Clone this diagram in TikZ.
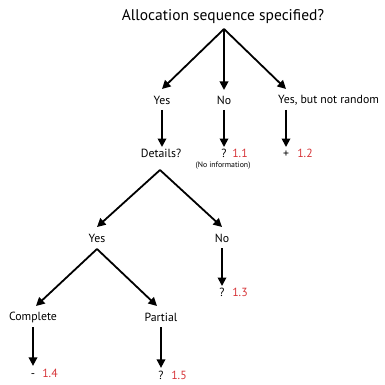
\documentclass[tikz,border=0pt]{standalone}
\usepackage{fontspec}
\setmainfont{PT Sans}
\usetikzlibrary{arrows.meta}
\definecolor{numred}{RGB}{214,52,56}
\begin{document}
\begin{tikzpicture}[x=1pt,y=-1pt,
  arr/.style={line width=1.8pt,-{Triangle[length=8.5pt,width=8.5pt]}},
  lbl/.style={font=\fontsize{11.8}{13}\selectfont,inner sep=0pt},
  res/.style={font=\fontsize{11.8}{13}\selectfont,inner sep=0pt,anchor=base},
  num/.style={font=\fontsize{11.8}{13}\selectfont,inner sep=0pt,text=numred,anchor=base},
  small/.style={font=\fontsize{7.8}{9}\selectfont,inner sep=0pt}]
\useasboundingbox (0,0) rectangle (384,385);
% title
\node[font=\fontsize{15.5}{18}\selectfont,inner sep=0pt] (title) at (223,17) {Allocation sequence specified?};
\coordinate (apex) at (224,29);
% level 1
\node[lbl] (yes1) at (162,100) {Yes};
\node[lbl] (no1) at (224,100) {No};
\node[lbl,anchor=west] (ybnr) at (278,100) {Yes, but not random};
\coordinate (t1) at (162,89);
\coordinate (t2) at (224,90);
\coordinate (t3) at (286,89);
\draw[arr] (apex) -- (t1);
\draw[arr] (apex) -- (t2);
\draw[arr] (apex) -- (t3);
% level 2
\node[lbl] (det) at (161,153) {Details?};
\node[res] (q11) at (224,157) {?};
\node[num] (n11) at (240,157) {1.1};
\node[small] (noinf) at (223,166) {(No information)};
\node[res] (plus) at (286,157) {+};
\node[num] (n12) at (305,157) {1.2};
\draw[arr,shorten <=10pt,shorten >=6pt] (yes1.center) -- (yes1.center |- det.center);
\draw[arr,shorten <=10pt,shorten >=6pt] (no1.center) -- (no1.center |- det.center);
\draw[arr,shorten <=10pt,shorten >=6pt] (plus.center |- ybnr.center) -- (plus.center |- det.center);
% level 3
\coordinate (apex2) at (160,170);
\node[lbl] (yes2) at (97,238) {Yes};
\node[lbl] (no2) at (222,238) {No};
\coordinate (t4) at (97,227);
\coordinate (t5) at (222,227);
\draw[arr] (apex2) -- (t4);
\draw[arr] (apex2) -- (t5);
\node[res] (q13) at (222,296) {?};
\node[num] (n13) at (240,296) {1.3};
\draw[arr,shorten <=10pt,shorten >=6pt] (no2.center) -- ++(0,54);
% level 4
\coordinate (apex3) at (97,249);
\node[lbl] (comp) at (33,317) {Complete};
\node[lbl] (part) at (161,317) {Partial};
\coordinate (t6) at (36,306);
\coordinate (t7) at (157,306);
\draw[arr] (apex3) -- (t6);
\draw[arr] (apex3) -- (t7);
\node[res] (m14) at (33,377) {-};
\node[num] (n14) at (50,377) {1.4};
\node[res] (q15) at (161,379) {?};
\node[num] (n15) at (179,379) {1.5};
\draw[arr,shorten <=10pt,shorten >=7pt] (comp.center) -- (comp.center |- n14.center);
\draw[arr,shorten <=10pt,shorten >=7pt] (part.center) -- (part.center |- n15.center);
\end{tikzpicture}
\end{document}
